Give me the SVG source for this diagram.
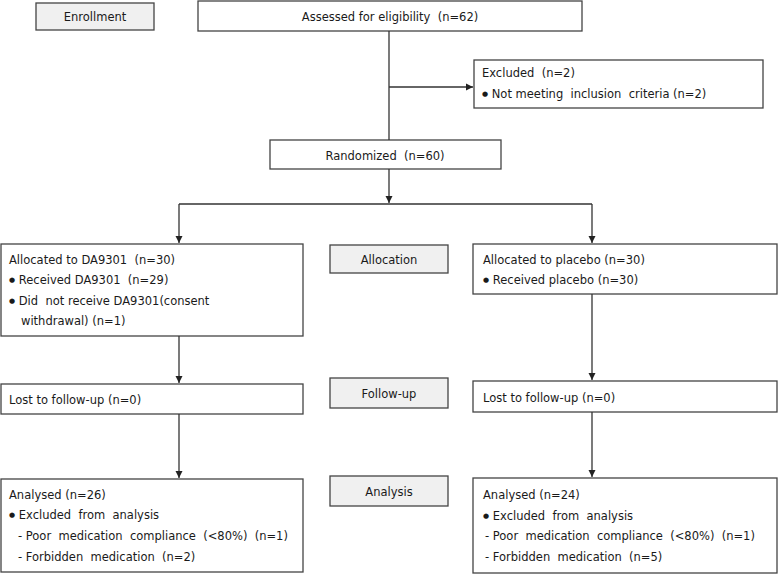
<svg xmlns="http://www.w3.org/2000/svg" width="778" height="574" viewBox="0 0 778 574" xml:space="preserve">
<defs>
<marker id="arr" markerWidth="8" markerHeight="8" refX="7" refY="4" orient="auto" markerUnits="userSpaceOnUse">
<path d="M0,0.5 L7,4 L0,7.5 Z" fill="#222"/>
</marker>
<style>
.box{fill:#fff;stroke:#444;stroke-width:1.3}
.stage{fill:#f0f0f0;stroke:#444;stroke-width:1.3}
text{font-family:"DejaVu Sans","Verdana",sans-serif;font-size:11.5px;fill:#1a1a1a;white-space:pre}
.c{text-anchor:middle}
.b{font-size:7px;baseline-shift:2px}
.ln{fill:none;stroke:#333;stroke-width:1.3}
</style>
</defs>
<rect width="778" height="574" fill="#fff"/>
<g id="enrollment"><rect class="stage" x="36" y="3" width="118" height="27"/><text class="c" x="95" y="21">Enrollment</text></g>
<g id="assessed"><rect class="box" x="198" y="1" width="384" height="30"/><text class="c" x="390" y="21">Assessed for eligibility  (n=62)</text></g>
<g id="excluded"><rect class="box" x="474" y="60" width="289" height="48"/><text x="482" y="77">Excluded  (n=2)</text><text x="482" y="98"><tspan class="b">●</tspan> Not meeting  inclusion  criteria (n=2)</text></g>
<g id="randomized"><rect class="box" x="270" y="140" width="231" height="29"/><text class="c" x="385" y="160">Randomized  (n=60)</text></g>
<g id="allocDA"><rect class="box" x="1" y="244" width="302" height="92"/>
<text x="9" y="264">Allocated to DA9301  (n=30)</text>
<text x="9" y="284"><tspan class="b">●</tspan> Received DA9301  (n=29)</text>
<text x="9" y="305"><tspan class="b">●</tspan> Did  not receive DA9301(consent</text>
<text x="21" y="325">withdrawal) (n=1)</text></g>
<g id="allocation"><rect class="stage" x="330" y="245" width="118" height="28"/><text class="c" x="389" y="264">Allocation</text></g>
<g id="allocPl"><rect class="box" x="473" y="244" width="304" height="50"/>
<text x="483" y="264">Allocated to placebo (n=30)</text>
<text x="483" y="284"><tspan class="b">●</tspan> Received placebo (n=30)</text></g>
<g id="lostDA"><rect class="box" x="1" y="384" width="302" height="30"/><text x="9" y="404">Lost to follow-up (n=0)</text></g>
<g id="followup"><rect class="stage" x="330" y="378" width="118" height="30"/><text class="c" x="389" y="398">Follow-up</text></g>
<g id="lostPl"><rect class="box" x="473" y="381" width="304" height="31"/><text x="483" y="402">Lost to follow-up (n=0)</text></g>
<g id="analysedDA"><rect class="box" x="1" y="479" width="302" height="93"/>
<text x="9" y="499">Analysed (n=26)</text>
<text x="9" y="519"><tspan class="b">●</tspan> Excluded  from  analysis</text>
<text x="18" y="540">- Poor  medication  compliance  (&lt;80%)  (n=1)</text>
<text x="18" y="561">- Forbidden  medication  (n=2)</text></g>
<g id="analysis"><rect class="stage" x="330" y="476" width="118" height="30"/><text class="c" x="389" y="496">Analysis</text></g>
<g id="analysedPl"><rect class="box" x="473" y="478" width="304" height="95"/>
<text x="483" y="499">Analysed (n=24)</text>
<text x="483" y="520"><tspan class="b">●</tspan> Excluded  from  analysis</text>
<text x="485" y="540">- Poor  medication  compliance  (&lt;80%)  (n=1)</text>
<text x="485" y="561">- Forbidden  medication  (n=5)</text></g>
<g id="connectors">
<path class="ln" d="M389,31 V140"/>
<path class="ln" d="M389,87 H473" marker-end="url(#arr)"/>
<path class="ln" d="M389,169 V203" marker-end="url(#arr)"/>
<path class="ln" d="M179,204 H592"/>
<path class="ln" d="M179,204 V243" marker-end="url(#arr)"/>
<path class="ln" d="M592,204 V243" marker-end="url(#arr)"/>
<path class="ln" d="M179,336 V383" marker-end="url(#arr)"/>
<path class="ln" d="M592,294 V380" marker-end="url(#arr)"/>
<path class="ln" d="M179,414 V478" marker-end="url(#arr)"/>
<path class="ln" d="M592,412 V477" marker-end="url(#arr)"/>
</g>
</svg>
